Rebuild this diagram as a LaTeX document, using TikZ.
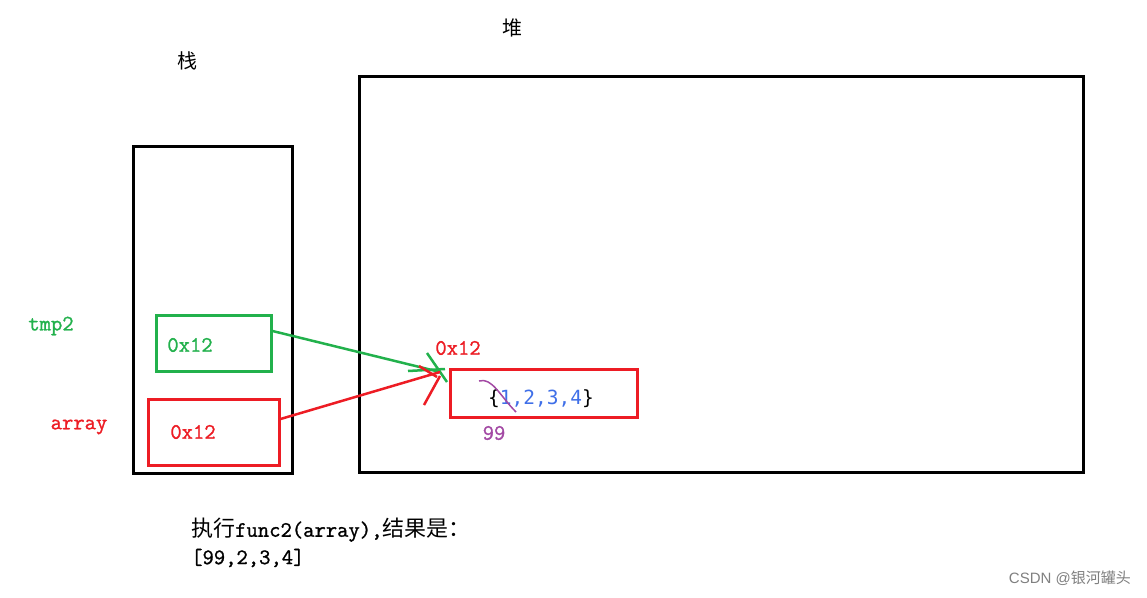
\documentclass[tikz,border=0pt]{standalone}
\usepackage{fontspec}
\setmainfont{Liberation Serif}
\setmonofont[FakeBold=1.2]{Latin Modern Mono}
\newfontfamily\smono{DejaVu Sans Mono}
\newfontfamily\cjk{Noto Sans CJK SC}
\newfontfamily\wm{Liberation Sans}
\definecolor{mygreen}{HTML}{22B14C}
\definecolor{myred}{HTML}{ED1C24}
\definecolor{myblue}{HTML}{3F6FE8}
\definecolor{mypurple}{HTML}{A349A4}
\begin{document}
\begin{tikzpicture}[x=1pt,y=-1pt,
  box/.style={draw,line width=3pt,inner sep=0pt,minimum width=#1},
  lab/.style={inner sep=0pt,font=\ttfamily\fontsize{22}{24}\selectfont},
  cjklab/.style={inner sep=0pt,font=\cjk\fontsize{20}{22}\selectfont},
  conn/.style={line width=2.5pt}]
\useasboundingbox (0,0) rectangle (1147,597);
\fill[white] (0,0) rectangle (1147,597);
% containers
\node[box=159pt,minimum height=327pt] (stack) at (212.5,309.5) {};
\node[box=724pt,minimum height=396pt] (heap) at (721,274) {};
\node[cjklab] (stacklab) at (187,61) {栈};
\node[cjklab] (heaplab) at (512,28) {堆};
% stack cells
\node[box=115pt,minimum height=56pt,draw=mygreen] (gbox) at (213.5,343) {};
\node[box=131pt,minimum height=66pt,draw=myred] (rbox) at (213.5,432) {};
\node[lab,text=mygreen] (gval) at (190,345) {0x12};
\node[lab,text=myred] (rval) at (193,432) {0x12};
\node[lab,text=mygreen] (tmp) at (51,326) {tmp2};
\node[lab,text=myred] (arr) at (79,427) {array};
% heap object
\node[box=187pt,minimum height=48pt,draw=myred] (obj) at (543.5,393) {};
\node[lab,text=myred] (addr) at (458,348) {0x12};
\node[inner sep=0pt,font=\smono\fontsize{19.5}{22}\selectfont] (vals) at (541,399) {\{\textcolor{myblue}{1,2,3,4}\}};
\node[lab,text=mypurple] (nn) at (494,433) {99};
\draw[mypurple,line width=1.5pt] (479,381) .. controls (492,377) and (500,396) .. (516,412);
% arrows
\coordinate (tip) at (440,372);
\draw[conn,mygreen] ([yshift=12pt]gbox.east) -- (tip);
\draw[conn,mygreen] (408,371) -- (445,369);
\draw[conn,mygreen] (427,353) -- (447,382);
\draw[conn,myred] ([yshift=13pt]rbox.east) -- (tip);
\draw[conn,myred] (424,405) -- (440,376);
\draw[conn,myred] (419,366) -- (437,377);
% caption
\node[anchor=west,inner sep=0pt,font=\ttfamily\fontsize{22}{24}\selectfont] (cap1) at (191,530) {{\cjk\fontsize{22}{24}\selectfont 执行}func2(array),{\cjk\fontsize{22}{24}\selectfont 结果是：}};
\node[anchor=west,inner sep=0pt,font=\ttfamily\fontsize{22}{24}\selectfont] (cap2) at (191,558) {[99,2,3,4]};
\node[anchor=east,inner sep=0pt,text=gray,font=\wm\fontsize{15}{18}\selectfont] (wmk) at (1131,578) {CSDN @{\cjk 银河罐头}};
\end{tikzpicture}
\end{document}
